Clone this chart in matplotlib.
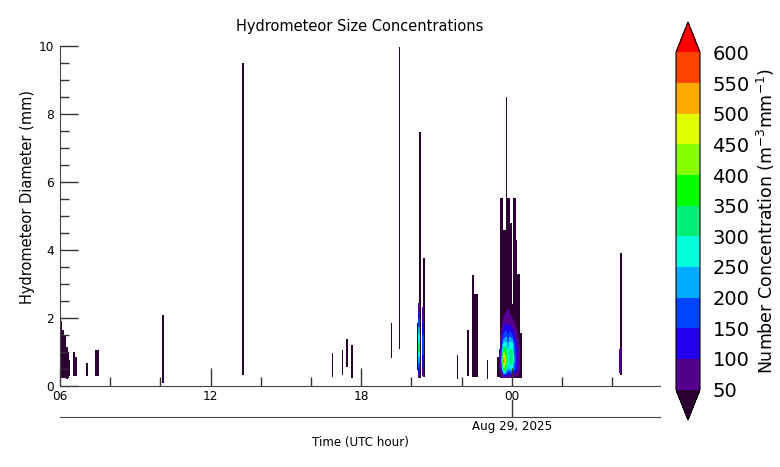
import numpy as np
import matplotlib
matplotlib.use('Agg')
import matplotlib.pyplot as plt
from matplotlib.colors import ListedColormap, BoundaryNorm
from matplotlib.cm import ScalarMappable
from matplotlib.ticker import MultipleLocator, FixedLocator

# ---------------- data ----------------
levels = [50, 100, 150, 200, 250, 300, 350, 400, 450, 500, 550, 600]
level_colors = ['#55008c', '#2200ee', '#0044ff', '#00aaff', '#00ffdd', '#00ee77',
                '#00ff00', '#88ff00', '#ddff00', '#ffaa00', '#ff4400']
under_color = '#2d0033'
over_color = '#ff0000'

xtick_hours = [6, 12, 18, 24]
xtick_labels = ['06', '12', '18', '00']
date_tick_hour = [24]
date_tick_label = ['Aug 29, 2025']

# columns with observed drops (hours since 00 UTC Aug 28), diameter range (mm)
col_t0 = [6.00, 6.08, 6.16, 6.24, 6.32, 6.37, 6.52, 6.59, 7.05, 7.39, 10.07, 13.23,
          16.80, 17.20, 17.36, 17.56, 19.15, 19.47, 20.19, 20.27, 20.43, 21.78,
          22.20, 22.39, 22.45, 22.97, 23.38, 23.52, 23.61, 23.72, 23.79, 23.88,
          23.99, 24.03, 24.12, 24.19, 24.28, 28.27]
col_t1 = [6.08, 6.16, 6.24, 6.32, 6.37, 6.41, 6.59, 6.66, 7.12, 7.53, 10.13, 13.30,
          16.86, 17.26, 17.43, 17.63, 19.22, 19.53, 20.26, 20.34, 20.50, 21.84,
          22.28, 22.45, 22.62, 23.03, 23.52, 23.61, 23.72, 23.79, 23.88, 23.99,
          24.03, 24.12, 24.19, 24.28, 24.38, 28.33]
col_dlo = [0.24, 0.24, 0.24, 0.22, 0.25, 0.30, 0.30, 0.30, 0.30, 0.28, 0.10, 0.32,
           0.26, 0.32, 0.56, 0.24, 0.82, 1.09, 0.47, 0.24, 0.26, 0.20,
           0.30, 0.26, 0.26, 0.20, 0.26, 0.24, 0.24, 0.24, 0.24, 0.24,
           0.24, 0.24, 0.24, 0.24, 0.24, 0.32]
col_dhi = [1.90, 1.65, 1.45, 1.15, 1.00, 0.75, 1.00, 0.85, 0.68, 1.05, 2.10, 9.50,
           0.97, 1.06, 1.38, 1.20, 1.85, 9.98, 1.85, 7.47, 3.76, 0.90,
           1.65, 3.26, 2.70, 0.76, 0.85, 5.52, 4.60, 8.50, 5.52, 4.79,
           2.40, 5.52, 4.30, 3.30, 1.56, 3.90]
col_conc = 10  # background concentration in these columns (below 50)

# main storm core around 00 UTC
core_t = [23.52, 23.60, 23.68, 23.76, 23.84, 23.92, 24.00, 24.08, 24.16, 24.24, 24.30, 24.36]
core_d = [0.25, 0.5, 0.75, 1.0, 1.25, 1.5, 1.75, 2.0, 2.25, 2.5]
core_conc = [
    [20, 40, 60, 50, 30, 20, 10, 10, 10, 10],
    [40, 120, 200, 160, 110, 70, 40, 20, 10, 10],
    [50, 380, 560, 400, 250, 150, 90, 50, 20, 10],
    [50, 320, 420, 350, 260, 180, 120, 70, 40, 20],
    [40, 200, 240, 220, 180, 140, 100, 70, 50, 30],
    [40, 240, 320, 320, 260, 170, 110, 60, 40, 20],
    [40, 260, 340, 320, 260, 150, 90, 50, 20, 10],
    [40, 180, 210, 200, 160, 110, 70, 30, 10, 10],
    [30, 130, 150, 140, 110, 80, 40, 20, 10, 10],
    [30, 90, 100, 90, 70, 40, 20, 10, 10, 10],
    [20, 60, 60, 55, 40, 20, 10, 10, 10, 10],
    [10, 20, 20, 20, 20, 10, 10, 10, 10, 10],
]
# thin columns with coloured cores
thinA_t = [20.27, 20.34]
thinA_conc = [60, 150, 220, 300, 320, 260, 200, 150, 90, 40]
thinB_t = [20.43, 20.50]
thinB_conc = [40, 90, 130, 160, 170, 150, 120, 90, 60, 30]
thinC_t = [28.27, 28.33]
thinC_conc = [30, 70, 90, 60, 30, 10, 10, 10, 10, 10]

# ---------------- figure ----------------
fig = plt.figure(figsize=(7.8, 4.67), dpi=100)
ax = fig.add_axes([60/780, 81/467, 600/780, 340/467])

cmap = ListedColormap(level_colors)
cmap.set_under(under_color)
cmap.set_over(over_color)
cmap.set_bad((1, 1, 1, 0))
norm = BoundaryNorm(levels, cmap.N)

x0, x1 = 6.0, 29.9
t_edges = np.arange(x0, x1 + 1e-9, 1/120)
d_edges = np.arange(0, 10.0001, 0.02)
grid = np.full((len(d_edges) - 1, len(t_edges) - 1), np.nan)
tc = 0.5 * (t_edges[:-1] + t_edges[1:])
dc = 0.5 * (d_edges[:-1] + d_edges[1:])
for a, b, lo, hi in zip(col_t0, col_t1, col_dlo, col_dhi):
    mt = (tc >= a) & (tc < b)
    md = (dc >= lo) & (dc <= hi)
    grid[np.ix_(md, mt)] = col_conc
ax.imshow(np.ma.masked_invalid(grid), origin='lower', aspect='auto',
          extent=[x0, x1, 0, 10], cmap=cmap, norm=norm, interpolation='nearest')

ax.contourf(core_t, core_d, np.array(core_conc).T, levels=levels,
            cmap=cmap, norm=norm, extend='max')
for tt, vv in [(thinA_t, thinA_conc), (thinB_t, thinB_conc), (thinC_t, thinC_conc)]:
    ax.contourf(tt, core_d, np.array([vv, vv]).T, levels=levels,
                cmap=cmap, norm=norm, extend='max')

ax.set_xlim(x0, x1)
ax.set_ylim(0, 10)
for s in ['top', 'right']:
    ax.spines[s].set_visible(False)
for s in ['left', 'bottom']:
    ax.spines[s].set_color('#444444')

ax.xaxis.set_major_locator(FixedLocator(xtick_hours))
ax.set_xticklabels(xtick_labels)
ax.xaxis.set_minor_locator(MultipleLocator(2))
ax.yaxis.set_major_locator(MultipleLocator(2))
ax.yaxis.set_minor_locator(MultipleLocator(0.5))
ax.tick_params(axis='both', which='major', direction='in', length=13, width=1,
               color='#333333', labelsize=8.7)
ax.tick_params(axis='both', which='minor', direction='in', length=6.5, width=1,
               color='#333333')
ax.tick_params(axis='x', which='major', pad=3)
ax.tick_params(axis='y', which='major', pad=4.5)
ax.set_ylabel('Hydrometeor Diameter (mm)', fontsize=10.5)
ax.yaxis.set_label_coords(-0.042, 0.557)
ax.set_title('Hydrometeor Size Concentrations', fontsize=10.5, pad=11)

sec = ax.secondary_xaxis(-31/340)
sec.xaxis.set_major_locator(FixedLocator(date_tick_hour))
sec.set_xticklabels(date_tick_label)
sec.tick_params(axis='x', which='major', direction='in', length=13, width=1,
                color='#333333', labelsize=8.6, pad=2.5)
sec.spines['bottom'].set_color('#444444')
sec.set_xlabel('Time (UTC hour)', fontsize=8.6, labelpad=1.5)

cax = fig.add_axes([676/780, 47/467, 24/780, 398/467])
cb = fig.colorbar(ScalarMappable(norm=norm, cmap=cmap), cax=cax, extend='both',
                  extendfrac=0.09, ticks=levels)
cb.ax.tick_params(length=0, pad=9, labelsize=14)
cb.outline.set_linewidth(0.8)
cb.set_label('Number Concentration (m$^{-3}$mm$^{-1}$)', fontsize=12.5, labelpad=4)

fig.savefig('out.png', dpi=100)
